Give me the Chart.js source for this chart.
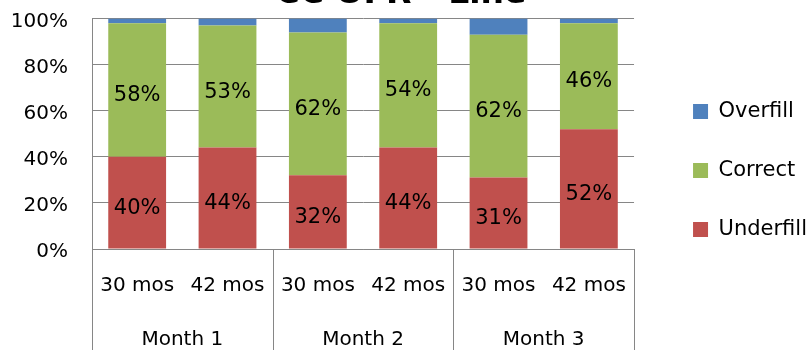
<!DOCTYPE html>
<html>
<head>
<meta charset="utf-8">
<title>CC OFR - Line</title>
<script src="https://cdn.jsdelivr.net/npm/chart.js@4/dist/chart.umd.min.js"></script>
<style>
  html, body { margin: 0; padding: 0; background: #fff; overflow: hidden; width: 809px; height: 350px; }
  #wrap { position: absolute; left: 0; top: -25px; width: 809px; height: 391px; }
</style>
</head>
<body>
<div id="wrap"><canvas id="chart"></canvas></div>
<script>
// ---- data ----
const subLabels = ['30 mos', '42 mos', '30 mos', '42 mos', '30 mos', '42 mos'];
const groupLabels = ['Month 1', 'Month 2', 'Month 3'];
const underfill = [40, 44, 32, 44, 31, 52];
const correct = [58, 53, 62, 54, 62, 46];
const overfill = [2, 3, 6, 2, 7, 2];
const yTicks = [0, 20, 40, 60, 80, 100];

const FONT = "'DejaVu Sans', sans-serif";
const AXIS = '#868686';
Chart.defaults.font.family = FONT;
Chart.defaults.color = '#000';

// value labels in the middle of the red and green segments
const segmentLabels = {
  id: 'segmentLabels',
  afterDatasetsDraw(chart){
    const ctx = chart.ctx;
    ctx.save();
    ctx.font = '21px ' + FONT;
    ctx.fillStyle = '#000';
    ctx.textAlign = 'center';
    ctx.textBaseline = 'alphabetic';
    chart.data.datasets.forEach((ds, i)=>{
      if(!ds.showValues) return;
      chart.getDatasetMeta(i).data.forEach((bar, j)=>{
        ctx.fillText(ds.data[j] + '%', bar.x, (bar.y + bar.base) / 2 + 11);
      });
    });
    ctx.restore();
  }
};

// second level of the category axis: month names and separators
const groupAxis = {
  id: 'groupAxis',
  afterDraw(chart){
    const ctx = chart.ctx;
    const xs = chart.scales.x;
    const area = chart.chartArea;
    const half = (xs.getPixelForValue(1) - xs.getPixelForValue(0)) / 2;
    ctx.save();
    ctx.strokeStyle = AXIS;
    ctx.lineWidth = 1;
    ctx.beginPath();
    for(let g = 0; g <= groupLabels.length; g++){
      const x = Math.round(g < groupLabels.length ? xs.getPixelForValue(g * 2) - half : xs.getPixelForValue(g * 2 - 1) + half) + 0.5;
      ctx.moveTo(x, area.bottom);
      ctx.lineTo(x, chart.height);
    }
    ctx.stroke();
    ctx.font = '20px ' + FONT;
    ctx.fillStyle = '#000';
    ctx.textAlign = 'center';
    ctx.textBaseline = 'alphabetic';
    groupLabels.forEach((lab, g)=>{
      const x = (xs.getPixelForValue(g * 2) + xs.getPixelForValue(g * 2 + 1)) / 2;
      ctx.fillText(lab, x, area.bottom + 96);
    });
    ctx.restore();
  }
};

new Chart(document.getElementById('chart'), {
  type: 'bar',
  data: {
    labels: subLabels,
    datasets: [
      {label: 'Underfill', data: underfill, backgroundColor: '#C0504D', showValues: true},
      {label: 'Correct', data: correct, backgroundColor: '#9BBB59', showValues: true},
      {label: 'Overfill', data: overfill, backgroundColor: '#4F81BD', showValues: false}
    ]
  },
  options: {
    responsive: true,
    maintainAspectRatio: false,
    animation: false,
    layout: {padding: {left: -15, right: -8, top: 0, bottom: 0}},
    datasets: {bar: {categoryPercentage: 1, barPercentage: 0.64, borderWidth: 0}},
    plugins: {
      title: {
        display: true, text: 'CC OFR - Line', color: '#000',
        font: {size: 33, weight: 'bold', lineHeight: 1.2},
        padding: {top: 0, bottom: 4}
      },
      legend: {
        position: 'right', reverse: true, maxWidth: 400,
        labels: {boxWidth: 15, boxHeight: 15, padding: 38, color: '#000', font: {size: 21}}
      },
      tooltip: {enabled: false}
    },
    scales: {
      x: {
        stacked: true,
        grid: {display: false, drawTicks: false},
        border: {display: true, color: AXIS},
        ticks: {font: {size: 20}, color: '#000', padding: 25, maxRotation: 0, autoSkip: false},
        afterFit(s){ s.height = 117; }
      },
      y: {
        stacked: true, min: 0, max: 100,
        afterBuildTicks(s){ s.ticks = yTicks.map(v=>({value: v})); },
        grid: {color: AXIS, drawTicks: false},
        border: {display: true, color: AXIS},
        ticks: {font: {size: 20}, color: '#000', padding: 24, labelOffset: 3, callback: v => v + '%'},
        afterFit(s){ s.width = 107; }
      },
      spacer: {
        type: 'linear', position: 'right', display: true,
        grid: {display: false, drawTicks: false},
        border: {display: false},
        ticks: {display: false},
        afterFit(s){ s.width = 21; }
      }
    }
  },
  plugins: [segmentLabels, groupAxis]
});
</script>
</body>
</html>
